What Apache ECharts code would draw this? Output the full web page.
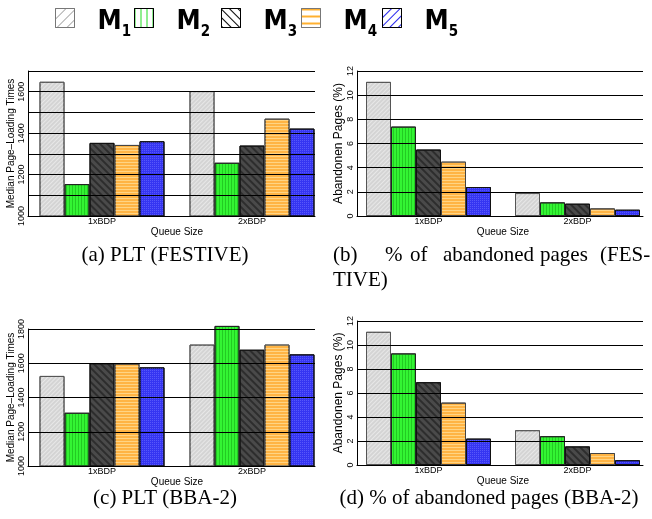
<!DOCTYPE html>
<html><head><meta charset="utf-8">
<script src="https://cdn.jsdelivr.net/npm/echarts@6/dist/echarts.min.js"></script>
<style>html,body{margin:0;padding:0;background:#fff}#c{width:652px;height:519px}</style>
</head><body><div id="c"></div>
<script>
// ---- data ----
const seriesNames = ['M1', 'M2', 'M3', 'M4', 'M5'];
const queueSizes = ['1xBDP', '2xBDP'];
// values per series [1xBDP, 2xBDP]
const pltFestiveM1 = [1648, 1603];
const pltFestiveM2 = [1154, 1257];
const pltFestiveM3 = [1353, 1340];
const pltFestiveM4 = [1343, 1470];
const pltFestiveM5 = [1361, 1422];
const abandonFestiveM1 = [11.1, 1.9];
const abandonFestiveM2 = [7.4, 1.13];
const abandonFestiveM3 = [5.5, 1.02];
const abandonFestiveM4 = [4.5, 0.63];
const abandonFestiveM5 = [2.4, 0.52];
const pltBbaM1 = [1526, 1709];
const pltBbaM2 = [1311, 1818];
const pltBbaM3 = [1600, 1679];
const pltBbaM4 = [1598, 1709];
const pltBbaM5 = [1576, 1652];
const abandonBbaM1 = [11.1, 2.9];
const abandonBbaM2 = [9.3, 2.4];
const abandonBbaM3 = [6.9, 1.55];
const abandonBbaM4 = [5.2, 1.0];
const abandonBbaM5 = [2.2, 0.4];
const pltTicks = [1000, 1200, 1400, 1600, 1800];
const abandonTicks = [0, 2, 4, 6, 8, 10, 12];

const pltFestive = [pltFestiveM1, pltFestiveM2, pltFestiveM3, pltFestiveM4, pltFestiveM5];
const abandonFestive = [abandonFestiveM1, abandonFestiveM2, abandonFestiveM3, abandonFestiveM4, abandonFestiveM5];
const pltBba = [pltBbaM1, pltBbaM2, pltBbaM3, pltBbaM4, pltBbaM5];
const abandonBba = [abandonBbaM1, abandonBbaM2, abandonBbaM3, abandonBbaM4, abandonBbaM5];

// ---- styles ----
const SANS = '"Liberation Sans", Arial, Helvetica, sans-serif';
const NARROW = '"Liberation Sans Narrow", "Arial Narrow", "DejaVu Sans Condensed", "Liberation Sans", sans-serif';
const SERIF = '"Liberation Serif", "Times New Roman", serif';
const P4 = Math.PI / 4;
const barStyles = [
  {color: '#d4d4d4', borderColor: '#555', borderWidth: 1,
   decal: {symbol: 'rect', color: 'rgba(255,255,255,0.45)', dashArrayX: [1, 0], dashArrayY: [1, 2], rotation: -P4}},
  {color: '#33f433', borderColor: '#222', borderWidth: 1,
   decal: {symbol: 'rect', color: 'rgba(20,170,20,0.55)', dashArrayX: [1, 2], dashArrayY: [1, 0], rotation: 0}},
  {color: '#4a4a4a', borderColor: '#111', borderWidth: 1,
   decal: {symbol: 'rect', color: 'rgba(25,25,25,0.6)', dashArrayX: [1, 0], dashArrayY: [2, 3], rotation: P4}},
  {color: '#ffb444', borderColor: '#444', borderWidth: 1,
   decal: {symbol: 'rect', color: 'rgba(255,225,160,0.7)', dashArrayX: [1, 0], dashArrayY: [1, 2], rotation: 0}},
  {color: '#3535f2', borderColor: '#111', borderWidth: 1,
   decal: {symbol: 'rect', color: 'rgba(110,110,255,0.6)', dashArrayX: [1, 1], dashArrayY: [1, 1], rotation: 0}}
];
const legendStyles = [
  {color: '#fff', borderColor: '#777', borderWidth: 1,
   decal: {symbol: 'rect', color: '#aaa', dashArrayX: [1, 0], dashArrayY: [1, 6], rotation: -P4}},
  {color: '#fff', borderColor: '#000', borderWidth: 1,
   decal: {symbol: 'rect', color: '#22dd22', dashArrayX: [1, 5], dashArrayY: [1, 0], rotation: 0}},
  {color: '#fff', borderColor: '#000', borderWidth: 1,
   decal: {symbol: 'rect', color: '#000', dashArrayX: [1, 0], dashArrayY: [1, 5], rotation: P4}},
  {color: '#fff', borderColor: '#777', borderWidth: 1,
   decal: {symbol: 'rect', color: '#ffb030', dashArrayX: [1, 0], dashArrayY: [2, 5], rotation: 0}},
  {color: '#fff', borderColor: '#000', borderWidth: 1,
   decal: {symbol: 'rect', color: '#2222ee', dashArrayX: [1, 0], dashArrayY: [1, 5], rotation: -P4}}
];
const legendLefts = [55, 134, 221, 301, 382];

// ---- panels ----
const panels = [
  {data: pltFestive, min: 1000, max: 1700, barMax: 1700, interval: 100, ticks: pltTicks, name: 'Median Page\u2013Loading Times', nameSize: 10, nameGap: 12,
   axLeft: 28, axTop: 71, axW: 287, axH: 145, barLeft: 27, barW: 300},
  {data: abandonFestive, min: 0, max: 12, barMax: 12, interval: 2, ticks: abandonTicks, name: 'Abandonen Pages (%)', nameSize: 12, nameGap: 12,
   axLeft: 357, axTop: 71, axW: 286, axH: 145, barLeft: 354, barW: 301},
  {data: pltBba, min: 1000, max: 1800, barMax: 1850, interval: 200, ticks: pltTicks, name: 'Median Page\u2013Loading Times', nameSize: 10, nameGap: 12,
   axLeft: 28, axTop: 329, axW: 287, axH: 137, barLeft: 27, barW: 300},
  {data: abandonBba, min: 0, max: 12, barMax: 12, interval: 2, ticks: abandonTicks, name: 'Abandonen Pages (%)', nameSize: 12, nameGap: 12,
   axLeft: 357, axTop: 321, axW: 286, axH: 144, barLeft: 354, barW: 301}
];

const grid = [], xAxis = [], yAxis = [], series = [];
panels.forEach((p, i) => {
  const ga = i * 2, gb = i * 2 + 1;
  const extra = p.axH * (p.barMax - p.max) / (p.max - p.min);
  grid.push({left: p.axLeft, top: p.axTop, width: p.axW, height: p.axH});
  grid.push({left: p.barLeft, top: p.axTop - extra, width: p.barW, height: p.axH + extra});
  xAxis.push({gridIndex: ga, type: 'value', min: 0, max: 1, z: 3,
    axisLine: {show: true, lineStyle: {color: '#000', width: 1}}, axisTick: {show: false},
    axisLabel: {show: false}, splitLine: {show: false}});
  xAxis.push({gridIndex: gb, type: 'category', data: queueSizes,
    axisLine: {show: false}, axisTick: {show: false},
    axisLabel: {color: '#000', fontSize: 9, fontFamily: SANS, margin: 1},
    name: 'Queue Size', nameLocation: 'middle', nameGap: 6,
    nameTextStyle: {color: '#000', fontSize: 10, fontFamily: SANS}});
  yAxis.push({gridIndex: ga, type: 'value', min: p.min, max: p.max, interval: p.interval, z: 3,
    axisLine: {show: true, lineStyle: {color: '#000', width: 1}}, axisTick: {show: false},
    splitLine: {show: true, lineStyle: {color: '#000', width: 1}},
    axisLabel: {rotate: 90, color: '#000', fontSize: 9, fontFamily: SANS, margin: 2,
      formatter: v => (p.ticks.indexOf(v) >= 0 ? String(v) : '')},
    name: p.name, nameLocation: 'middle', nameGap: p.nameGap,
    nameTextStyle: {color: '#000', fontSize: p.nameSize, fontFamily: SANS}});
  yAxis.push({gridIndex: gb, type: 'value', min: p.min, max: p.barMax, show: false});
  seriesNames.forEach((n, k) => {
    series.push({type: 'bar', name: n, xAxisIndex: gb, yAxisIndex: gb, data: p.data[k],
      barWidth: 25, barGap: '0%', itemStyle: barStyles[k], emphasis: {disabled: true}});
  });
});

function txt(text, x, y, align) {
  return {type: 'text', x: x, y: y, z: 10,
    style: {text: text, font: '21px ' + SERIF, fill: '#000', textAlign: align, align: align,
            textVerticalAlign: 'middle', verticalAlign: 'middle'}};
}
const graphic = [
  txt('(a) PLT (FESTIVE)', 165, 255, 'center'),
  txt('(b)', 333, 255, 'left'), txt('%', 385, 255, 'left'), txt('of', 410, 255, 'left'),
  txt('abandoned', 443, 255, 'left'), txt('pages', 540, 255, 'left'), txt('(FES-', 600, 255, 'left'),
  txt('TIVE)', 333, 280, 'left'),
  txt('(c) PLT (BBA-2)', 165, 498, 'center'),
  txt('(d) % of abandoned pages (BBA-2)', 489, 498, 'center')
];

const legend = seriesNames.map((n, i) => ({
  left: legendLefts[i], top: -2, padding: 0, icon: 'rect', itemWidth: 19, itemHeight: 19,
  data: [{name: n, itemStyle: legendStyles[i]}],
  formatter: s => '{m|M}{s|' + s.slice(1) + '}',
  textStyle: {color: '#000', rich: {
    m: {fontSize: 27, fontWeight: 'bold', fontFamily: NARROW, color: '#000', padding: [10, 0, 0, 18], lineHeight: 40, verticalAlign: 'top'},
    s: {fontSize: 15, fontWeight: 'bold', fontFamily: NARROW, color: '#000', padding: [27, 0, 0, 0], lineHeight: 40, verticalAlign: 'top'}
  }}
}));

const chart = echarts.init(document.getElementById('c'), null, {renderer: 'canvas'});
chart.setOption({
  animation: false,
  backgroundColor: '#fff',
  legend: legend,
  grid: grid, xAxis: xAxis, yAxis: yAxis, series: series, graphic: graphic
});
</script></body></html>
